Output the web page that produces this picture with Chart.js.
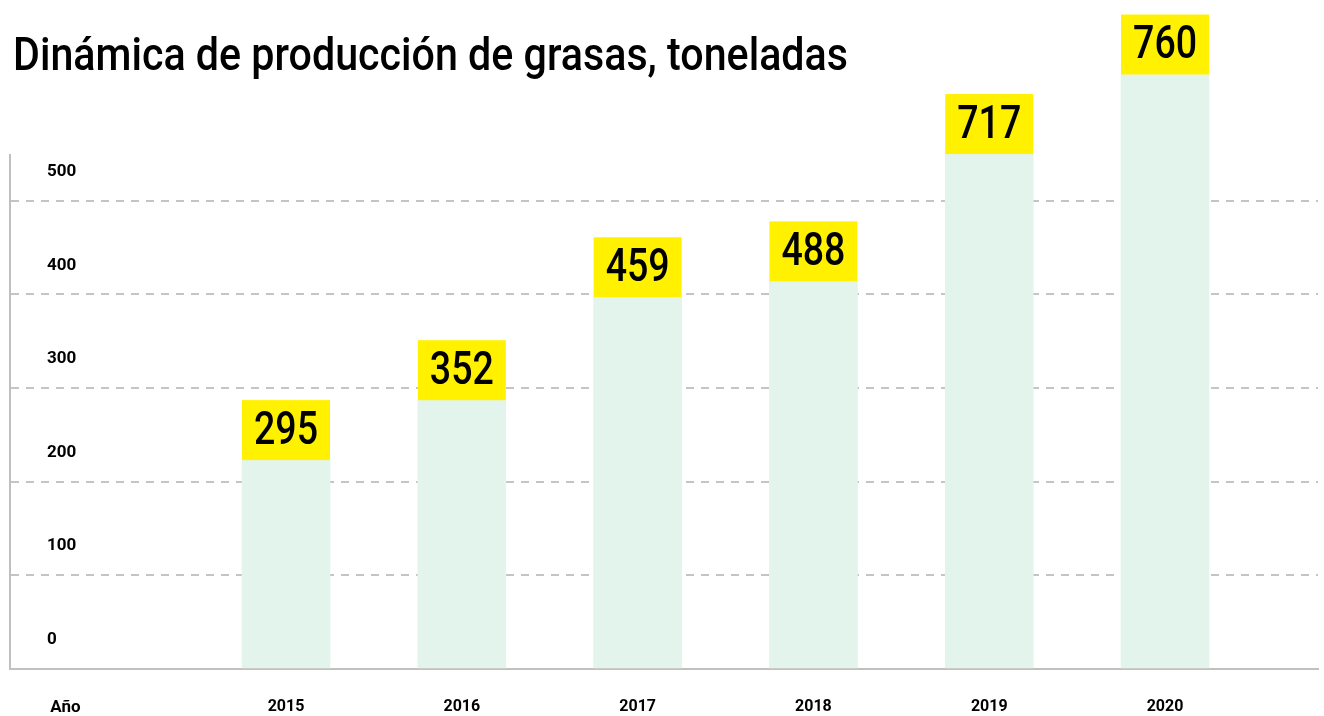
<!DOCTYPE html>
<html lang="es">
<head>
    <meta charset="UTF-8">
    <title>Dinámica de producción de grasas</title>
    <script src="https://cdn.jsdelivr.net/npm/chart.js"></script>
    <style>
        body {
            margin: 0;
            padding: 0;
            background: #ffffff;
            width: 1324px;
            height: 716px;
            overflow: hidden;
            position: relative;
            font-family: Roboto, 'DejaVu Sans Condensed', sans-serif;
        }

        h1 {
            position: absolute;
            left: 13px;
            top: 31px;
            margin: 0;
            font-size: 46px;
            line-height: 46px;
            font-weight: 500;
            color: #000;
            white-space: nowrap;
            transform-origin: 0 0;
            z-index: 2;
        }

        #wrap {
            position: absolute;
            left: 0;
            top: 0;
            width: 1324px;
            height: 716px;
        }
    </style>
</head>
<body>

    <h1 id="title">Dinámica de producción de grasas, toneladas</h1>

    <div id="wrap">
        <canvas id="fatChart" width="1324" height="716"></canvas>
    </div>

    <script>
        const FONT = "Roboto, 'DejaVu Sans Condensed', sans-serif";

        // data
        const years = ['2015', '2016', '2017', '2018', '2019', '2020'];
        const printedValues = [295, 352, 459, 488, 717, 760];
        // heights of the green bars as drawn against the axis
        const barHeights = [223, 287, 397, 414, 550, 635];
        const yTicks = [0, 100, 200, 300, 400, 500];
        const xTitle = 'Año';

        const ANO_POS = -0.255;

        // squeeze the title to the narrow width of the original
        const title = document.getElementById('title');
        title.style.transform = 'scaleX(' + (835 / title.getBoundingClientRect().width) + ')';

        // yellow value boxes on top of each bar
        const valueBoxes = {
            id: 'valueBoxes',
            afterDatasetsDraw(chart) {
                const ctx = chart.ctx;
                const meta = chart.getDatasetMeta(0);
                ctx.save();
                ctx.font = '500 46px ' + FONT;
                const squeeze = 64 / ctx.measureText('000').width;
                meta.data.forEach((bar, i) => {
                    const w = bar.width;
                    const h = 60;
                    ctx.fillStyle = '#fff100';
                    ctx.fillRect(bar.x - w / 2, bar.y - h, w, h);
                    ctx.save();
                    ctx.translate(bar.x, bar.y - h / 2 + 2);
                    ctx.scale(squeeze, 1);
                    ctx.fillStyle = '#000';
                    ctx.textAlign = 'center';
                    ctx.textBaseline = 'middle';
                    ctx.fillText(String(printedValues[i]), 0, 0);
                    ctx.restore();
                });
                ctx.restore();
            }
        };

        const ctx = document.getElementById('fatChart').getContext('2d');

        new Chart(ctx, {
            type: 'bar',
            data: {
                datasets: [{
                    data: barHeights.map((v, i) => ({ x: i + 1, y: v })),
                    backgroundColor: '#e3f4ec',
                    barThickness: 88,
                    clip: false
                }]
            },
            options: {
                responsive: false,
                animation: false,
                layout: {
                    padding: { left: 10, right: 6, top: 155, bottom: 0 }
                },
                plugins: {
                    legend: { display: false },
                    tooltip: { enabled: false }
                },
                scales: {
                    x: {
                        type: 'linear',
                        offset: false,
                        min: -0.570,
                        max: 6.870,
                        grid: { display: false, drawTicks: false },
                        border: { display: true, color: '#c0c0c0', width: 2 },
                        afterBuildTicks: (scale) => {
                            scale.ticks = [{ value: ANO_POS }].concat(years.map((y, i) => ({ value: i + 1 })));
                        },
                        afterFit: (scale) => { scale.height = 45; },
                        ticks: {
                            autoSkip: false,
                            maxRotation: 0,
                            padding: 29,
                            color: '#000',
                            font: (c) => ({ family: FONT, size: c.index === 0 ? 17 : 16, weight: 'bold' }),
                            callback: (value) => value === ANO_POS ? xTitle : years[value - 1]
                        }
                    },
                    y: {
                        min: 0,
                        max: 549,
                        afterBuildTicks: (scale) => {
                            scale.ticks = yTicks.map(v => ({ value: v }));
                        },
                        afterFit: (scale) => { scale.width = 0; },
                        grid: {
                            drawTicks: false,
                            lineWidth: 2,
                            color: (c) => c.tick && c.tick.value === 0 ? 'rgba(0,0,0,0)' : '#c4c4c4'
                        },
                        border: { display: true, color: '#c0c0c0', width: 2, dash: [8, 7] },
                        ticks: {
                            mirror: true,
                            padding: 37,
                            labelOffset: -29,
                            color: '#000',
                            font: { family: FONT, size: 17, weight: 'bold' }
                        }
                    }
                }
            },
            plugins: [valueBoxes]
        });
    </script>

</body>
</html>
